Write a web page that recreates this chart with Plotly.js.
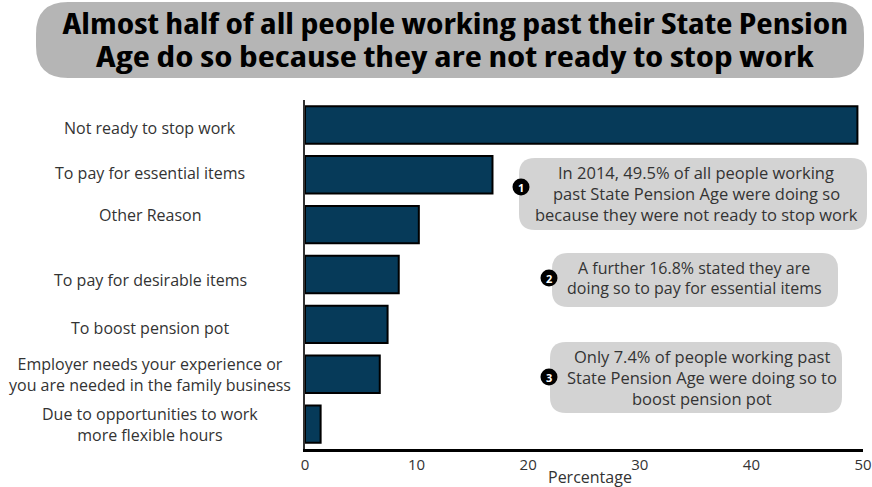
<!DOCTYPE html>
<html>
<head>
<meta charset="utf-8">
<script src="https://cdn.plot.ly/plotly-3.0.1.min.js"></script>
<style>html,body{margin:0;padding:0;background:#fff;}#chart{width:872px;height:487px;}</style>
</head>
<body>
<div id="chart"></div>
<script>
// ---- data ----
const categories = [
  'Not ready to stop work',
  'To pay for essential items',
  'Other Reason',
  'To pay for desirable items',
  'To boost pension pot',
  'Employer needs your experience or<br>you are needed in the family business',
  'Due to opportunities to work<br>more flexible hours'
];
const values = [49.5, 16.8, 10.2, 8.4, 7.4, 6.7, 1.4];
const xTicks = [0, 10, 20, 30, 40, 50];
const titleLines = [
  'Almost half of all people working past their State Pension',
  'Age do so because they are not ready to stop work'
];
const callout1 = ['In 2014, 49.5% of all people working', 'past State Pension Age were doing so', 'because they were not ready to stop work'];
const callout2 = ['A further 16.8% stated they are', 'doing so to pay for essential items'];
const callout3 = ['Only 7.4% of people working past', 'State Pension Age were doing so to', 'boost pension pot'];
const xTitle = 'Percentage';

// ---- layout helpers (pixels -> paper) ----
const L = 305, T = 100, W = 558, H = 349;
const fx = p => (p - L) / W;
const fy = p => (T + H - p) / H;
function rrect(x0, y0, x1, y1, r) {
  const P = (x, y) => fx(x).toFixed(5) + ',' + fy(y).toFixed(5);
  return 'M' + P(x0 + r, y0) + ' L' + P(x1 - r, y0) + ' Q' + P(x1, y0) + ' ' + P(x1, y0 + r) +
    ' L' + P(x1, y1 - r) + ' Q' + P(x1, y1) + ' ' + P(x1 - r, y1) +
    ' L' + P(x0 + r, y1) + ' Q' + P(x0, y1) + ' ' + P(x0, y1 - r) +
    ' L' + P(x0, y0 + r) + ' Q' + P(x0, y0) + ' ' + P(x0 + r, y0) + ' Z';
}
const shapes = [];
const annotations = [];
function box(x0, y0, x1, y1, r, color) {
  shapes.push({type: 'path', xref: 'paper', yref: 'paper', path: rrect(x0, y0, x1, y1, r),
    fillcolor: color, line: {width: 0}, layer: 'below'});
}
function circle(cx, cy, r, label) {
  shapes.push({type: 'circle', xref: 'paper', yref: 'paper', x0: fx(cx - r), x1: fx(cx + r),
    y0: fy(cy + r), y1: fy(cy - r), fillcolor: '#000', line: {width: 0}, layer: 'above'});
  annotations.push({xref: 'paper', yref: 'paper', x: fx(cx), y: fy(cy), text: label, showarrow: false,
    xanchor: 'center', yanchor: 'middle', font: {family: 'Open Sans', size: 11, color: '#fff', weight: 700}});
}
function lines(arr, cx, y0, step, font) {
  arr.forEach((t, i) => annotations.push({xref: 'paper', yref: 'paper', x: fx(cx), y: fy(y0 + i * step),
    text: t, showarrow: false, xanchor: 'center', yanchor: 'middle', font: font}));
}

// title
box(36, 2, 864, 78, 32, '#b5b5b5');
lines(titleLines, 455, 23, 33, {family: 'Open Sans', size: 28, color: '#000', weight: 700});

// callouts
const cfont = {family: 'Open Sans', size: 16.5, color: '#333'};
box(519, 158, 867, 230, 16, '#d3d3d3');
lines(callout1, 696, 172, 21, cfont);
circle(521, 187, 8.5, '1');
box(552, 253, 838, 307, 16, '#d3d3d3');
lines(callout2, 694, 268, 20, {family: 'Open Sans', size: 16, color: '#333'});
circle(549, 278, 8.5, '2');
box(550, 342, 842, 413, 16, '#d3d3d3');
lines(callout3, 702, 356, 21, cfont);
circle(549, 377, 8.5, '3');

// category labels
const labelShift = [-3, 2, 10, -5, -4, 0, 0];
categories.forEach((c, i) => annotations.push({xref: 'paper', yref: 'y', x: fx(150), y: i, text: c,
  showarrow: false, xanchor: 'center', yanchor: 'middle', align: 'center', yshift: labelShift[i],
  font: {family: 'Open Sans', size: 16, color: '#333'}}));

// x-axis title
annotations.push({xref: 'paper', yref: 'paper', x: fx(590), y: fy(477), text: xTitle, showarrow: false,
  xanchor: 'center', yanchor: 'middle', font: {family: 'Open Sans', size: 16, color: '#333'}});

const trace = {
  type: 'bar', orientation: 'h',
  x: values, y: categories.map((c, i) => i),
  width: 0.75,
  marker: {color: '#063a59', line: {color: '#000', width: 2}},
  hoverinfo: 'skip'
};

const layout = {
  width: 872, height: 487,
  margin: {l: L, r: 872 - L - W, t: T, b: 487 - T - H, pad: 0},
  paper_bgcolor: '#fff', plot_bgcolor: '#fff',
  showlegend: false,
  xaxis: {range: [0, 50], tickvals: xTicks, ticktext: xTicks.map(String), showgrid: false, zeroline: false,
    showline: true, linecolor: '#000', linewidth: 3, ticks: '', ticklen: 0,
    tickfont: {family: 'Open Sans', size: 15, color: '#333'}, fixedrange: true},
  yaxis: {range: [6.5, -0.5], showticklabels: false, showgrid: false, zeroline: false,
    showline: true, linecolor: '#333', linewidth: 2, ticks: '', fixedrange: true},
  shapes: shapes,
  annotations: annotations
};

Plotly.newPlot('chart', [trace], layout, {displayModeBar: false, staticPlot: true}).then(function () {
  // narrow the title lines to the reference's semi-condensed bold face
  const targets = {};
  targets[titleLines[0]] = 786;
  targets[titleLines[1]] = 719;
  document.querySelectorAll('#chart .annotation-text').forEach(function (el) {
    const want = targets[el.textContent];
    if (!want) return;
    el.style.fontStretch = '87.5%';
    const bb = el.getBBox();
    if (bb.width > 0 && Math.abs(bb.width - want) > 4) {
      const cx = bb.x + bb.width / 2, s = want / bb.width;
      el.setAttribute('transform', 'translate(' + cx + ',0) scale(' + s + ',1) translate(' + (-cx) + ',0)');
    }
  });
});
</script>
</body>
</html>
